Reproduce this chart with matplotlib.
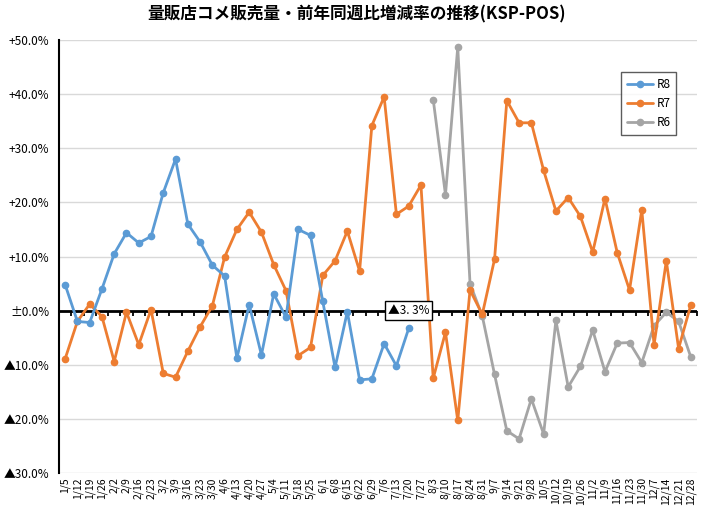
"""Weekly rice sales at mass retailers: YoY change rate (KSP-POS), R8/R7/R6."""
import numpy as np
import matplotlib
matplotlib.use("Agg")
import matplotlib.pyplot as plt

plt.rcParams["font.family"] = ["Noto Sans CJK JP", "DejaVu Sans"]

# ---- data ----
WEEKS = ["1/5", "1/12", "1/19", "1/26", "2/2", "2/9", "2/16", "2/23",
         "3/2", "3/9", "3/16", "3/23", "3/30", "4/6", "4/13", "4/20",
         "4/27", "5/4", "5/11", "5/18", "5/25", "6/1", "6/8", "6/15",
         "6/22", "6/29", "7/6", "7/13", "7/20", "7/27", "8/3", "8/10",
         "8/17", "8/24", "8/31", "9/7", "9/14", "9/21", "9/28", "10/5",
         "10/12", "10/19", "10/26", "11/2", "11/9", "11/16", "11/23",
         "11/30", "12/7", "12/14", "12/21", "12/28"]

# R8: 1/5 .. 7/20
R8 = [4.8, -2.0, -2.2, 4.0, 10.5, 14.4, 12.5, 13.7, 21.8, 28.0, 16.0,
      12.7, 8.4, 6.4, -8.8, 1.1, -8.2, 3.1, -1.2, 15.0, 13.9, 1.7, -10.5,
      -0.2, -12.8, -12.6, -6.1, -10.2, -3.3]

# R7: full year
R7 = [-8.9, -2.0, 1.2, -1.1, -9.4, -0.3, -6.3, 0.2, -11.6, -12.3, -7.5,
      -3.0, 0.9, 9.9, 15.0, 18.2, 14.5, 8.5, 3.7, -8.3, -6.8, 6.5, 9.2,
      14.7, 7.3, 34.2, 39.5, 17.8, 19.3, 23.2, -12.5, -4.0, -20.3, 3.8,
      -0.7, 9.5, 38.8, 34.7, 34.7, 25.9, 18.4, 20.9, 17.4, 10.8, 20.7,
      10.7, 3.8, 18.6, -6.3, 9.2, -7.0, 1.1]

# R6: 8/3 .. 12/28
R6_START = 30
R6 = [39.0, 21.4, 48.7, 5.0, -1.0, -11.8, -22.2, -23.7, -16.3, -22.8,
      -1.8, -14.1, -10.3, -3.6, -11.3, -6.0, -5.9, -9.6, -2.8, -0.3, -2.0,
      -8.6]

Y_TICKS = [50, 40, 30, 20, 10, 0, -10, -20, -30]
Y_LABELS = ["+50.0%", "+40.0%", "+30.0%", "+20.0%", "+10.0%", "±0.0%",
            "▲10.0%", "▲20.0%", "▲30.0%"]
LAST_LABEL = "▲3. 3%"

C_R8 = "#5B9BD5"
C_R7 = "#ED7D31"
C_R6 = "#A5A5A5"


def main():
    fig = plt.figure(figsize=(7.14, 5.21), dpi=100)
    ax = fig.add_axes([59 / 714, 1 - 473 / 521, 638 / 714, 433 / 521])

    x = np.arange(len(WEEKS))
    style = dict(lw=2.0, marker="o", ms=4.5, solid_capstyle="round")
    ax.plot(x[:len(R8)], R8, color=C_R8, label="R8", zorder=4, **style)
    ax.plot(x, R7, color=C_R7, label="R7", zorder=3, **style)
    ax.plot(x[R6_START:R6_START + len(R6)], R6, color=C_R6, label="R6",
            zorder=2, **style)

    ax.set_xlim(-0.5, len(WEEKS) - 0.5)
    ax.set_ylim(-30, 50)
    ax.set_yticks(Y_TICKS)
    ax.set_yticklabels(Y_LABELS, fontsize=8.5)
    ax.tick_params(axis="y", length=0, pad=7)
    ax.yaxis.grid(True, color="#D9D9D9", lw=1.0)
    ax.set_axisbelow(True)

    ax.set_xticks(x)
    ax.set_xticklabels(WEEKS, rotation=90, fontsize=7.5)
    ax.tick_params(axis="x", length=0, pad=3)

    for sp in ("top", "right", "bottom"):
        ax.spines[sp].set_visible(False)
    ax.spines["left"].set_color("black")
    ax.spines["left"].set_linewidth(1.5)

    # zero line with category-boundary ticks
    ax.axhline(0, color="black", lw=2.0, zorder=1.5)
    zero = ax.secondary_xaxis(30 / 80)
    zero.set_xticks(np.arange(-0.5, len(WEEKS)))
    zero.tick_params(axis="x", direction="out", length=3.5, width=1.3,
                     labelbottom=False, labeltop=False, colors="black")
    for sp in zero.spines.values():
        sp.set_visible(False)

    # label for the last R8 point
    ax.text(len(R8) - 1, 0, LAST_LABEL, ha="center", va="center",
            fontsize=8.5, zorder=6,
            bbox=dict(boxstyle="square,pad=0.25", fc="white", ec="black",
                      lw=1.0))

    leg = ax.legend(loc="upper left", bbox_to_anchor=(0.881, 0.926),
                    fontsize=8.5, fancybox=False, edgecolor="#333333",
                    handlelength=2.2, borderaxespad=0, labelspacing=0.5,
                    handletextpad=0.3, borderpad=0.5)
    leg.get_frame().set_linewidth(1.0)

    fig.text(0.5, 0.972, "量販店コメ販売量・前年同週比増減率の推移(KSP-POS)",
             ha="center", va="center", fontsize=12, fontweight="bold")

    fig.savefig("out.png", dpi=100)
    plt.close(fig)


if __name__ == "__main__":
    main()
